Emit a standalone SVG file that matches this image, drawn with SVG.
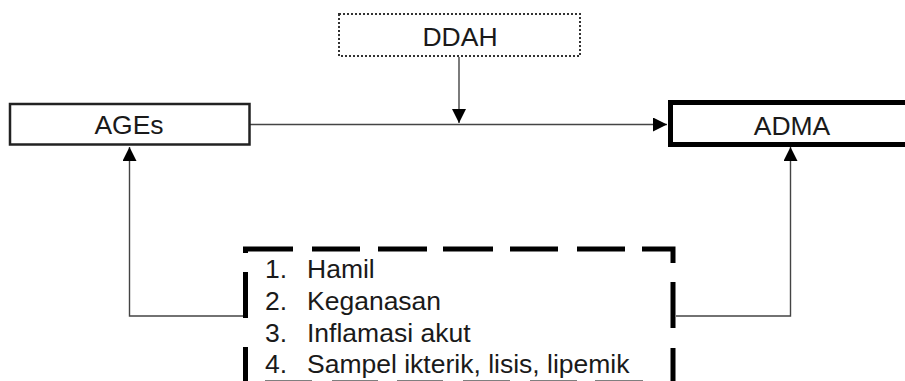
<svg xmlns="http://www.w3.org/2000/svg" width="905" height="381" viewBox="0 0 905 381">
<style>
.lbl{font-family:"Liberation Sans",Arial,sans-serif;font-size:26.5px;fill:#1a1a1a}
.conn{fill:none;stroke:#444;stroke-width:1.4}
.dash{fill:none;stroke:#000;stroke-width:5}
</style>
<defs>
<marker id="ah" viewBox="0 0 14 14" refX="14" refY="7" markerWidth="14" markerHeight="14" markerUnits="userSpaceOnUse" orient="auto">
<path d="M0,0 L14,7 L0,14 Z" fill="#000"/>
</marker>
</defs>
<rect width="905" height="381" fill="#fff"/>
<g id="connectors">
<path class="conn" d="M459,57 V123" marker-end="url(#ah)"/>
<path class="conn" d="M250,124.5 H667" marker-end="url(#ah)"/>
<path class="conn" d="M244,316 H129.5 V147" marker-end="url(#ah)"/>
<path class="conn" d="M676,316 H790.5 V147" marker-end="url(#ah)"/>
</g>
<g id="ddah">
<rect x="339" y="14" width="241" height="42" fill="#fff" stroke="#333" stroke-width="2" stroke-dasharray="2 2"/>
<text class="lbl" x="460" y="46" text-anchor="middle">DDAH</text>
</g>
<g id="ages">
<rect x="10" y="104" width="239.5" height="40.5" fill="#fff" stroke="#222" stroke-width="2.5"/>
<text class="lbl" x="129" y="134" text-anchor="middle">AGEs</text>
</g>
<g id="adma">
<rect x="670.5" y="102.5" width="245" height="42" fill="#fff" stroke="#000" stroke-width="5"/>
<text class="lbl" x="792" y="135" text-anchor="middle">ADMA</text>
</g>
<g id="factors">
<path class="dash" d="M245.5,253 V249 H293 M312,249 H360 M378,249 H427 M443,249 H493 M510,249 H558 M577,249 H625 M642,249 H673 V263"/>
<path class="dash" d="M245.5,272 V318 M245.5,347 V390 M673,282 V328 M673,348 V390"/>
<path class="dash" d="M265,383 H312 M332,383 H378 M397,383 H443 M463,383 H510 M530,383 H577 M595,383 H643"/>
<text class="lbl"><tspan x="265" y="278">1.</tspan><tspan x="307" y="278">Hamil</tspan></text>
<text class="lbl"><tspan x="265" y="310">2.</tspan><tspan x="307" y="310">Keganasan</tspan></text>
<text class="lbl"><tspan x="265" y="342">3.</tspan><tspan x="307" y="342">Inflamasi akut</tspan></text>
<text class="lbl"><tspan x="265" y="373">4.</tspan><tspan x="307" y="373">Sampel ikterik, lisis, lipemik</tspan></text>
</g>
</svg>
